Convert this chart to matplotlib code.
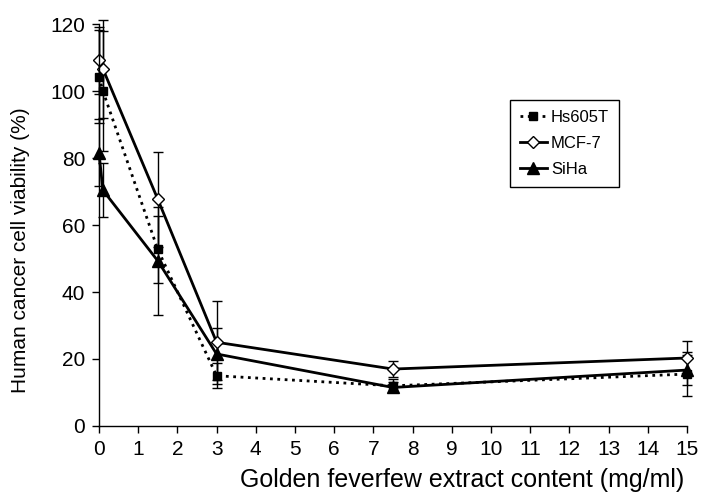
import matplotlib.pyplot as plt
from matplotlib.lines import Line2D

plt.rcParams['font.family'] = ['Liberation Sans', 'DejaVu Sans']

# extract concentrations (mg/ml)
conc = [0, 0.1, 1.5, 3, 7.5, 15]

hs605t = [104.3, 100.0, 52.7, 15.0, 12.0, 15.5]
hs605t_err = [14.0, 18.0, 10.0, 3.8, 2.0, 6.5]

mcf7 = [109.2, 106.6, 67.7, 25.0, 17.0, 20.3]
mcf7_err = [10.0, 14.6, 14.2, 12.4, 2.5, 5.0]

siha = [81.6, 70.4, 49.3, 21.5, 11.5, 16.7]
siha_err = [10.0, 8.0, 16.2, 7.8, 1.5, 4.5]

x_ticks = list(range(0, 16))
y_ticks = [0, 20, 40, 60, 80, 100, 120]

fig = plt.figure(figsize=(7.02, 4.95), dpi=100)
ax = fig.add_axes([0.141, 0.1394, 0.8376, 0.8121])

common = dict(color='black', ecolor='black', elinewidth=1.0, capsize=3.5,
              capthick=1.0, linewidth=2.0, clip_on=False)

styles = {
    'Hs605T': dict(linestyle=':', marker='s', markersize=6, markerfacecolor='black'),
    'MCF-7': dict(linestyle='-', marker='D', markersize=6.5,
                  markerfacecolor='white', markeredgewidth=1.0),
    'SiHa': dict(linestyle='-', marker='^', markersize=8, markerfacecolor='black'),
}

ax.errorbar(conc, hs605t, yerr=hs605t_err, **styles['Hs605T'], **common)
ax.errorbar(conc, mcf7, yerr=mcf7_err, **styles['MCF-7'], **common)
ax.errorbar(conc, siha, yerr=siha_err, **styles['SiHa'], **common)

ax.set_xlim(0, 15)
ax.set_ylim(0, 120)
ax.set_xticks(x_ticks)
ax.set_yticks(y_ticks)
ax.spines['top'].set_visible(False)
ax.spines['right'].set_visible(False)
ax.spines['left'].set_linewidth(1.0)
ax.spines['bottom'].set_linewidth(1.0)
ax.tick_params(direction='out', length=5, width=1.0, labelsize=15, pad=5)

ax.set_xlabel('Golden feverfew extract content (mg/ml)', fontsize=18)
ax.set_ylabel('Human cancer cell viability (%)', fontsize=15)
ax.xaxis.set_label_coords(0.617, -0.105)
ax.yaxis.set_label_coords(-0.117, 0.438)

# legend handles without the error bars
handles = [Line2D([], [], color='black', linewidth=2.0, **styles[k]) for k in styles]
leg = ax.legend(handles, list(styles), loc='upper left',
                bbox_to_anchor=(0.699, 0.811), fontsize=12,
                handlelength=1.6, handletextpad=0.25, labelspacing=0.65,
                borderpad=0.6, borderaxespad=0, fancybox=False, framealpha=1)
leg.get_frame().set_edgecolor('black')
leg.get_frame().set_linewidth(1.0)

fig.savefig('out.png', dpi=100)
